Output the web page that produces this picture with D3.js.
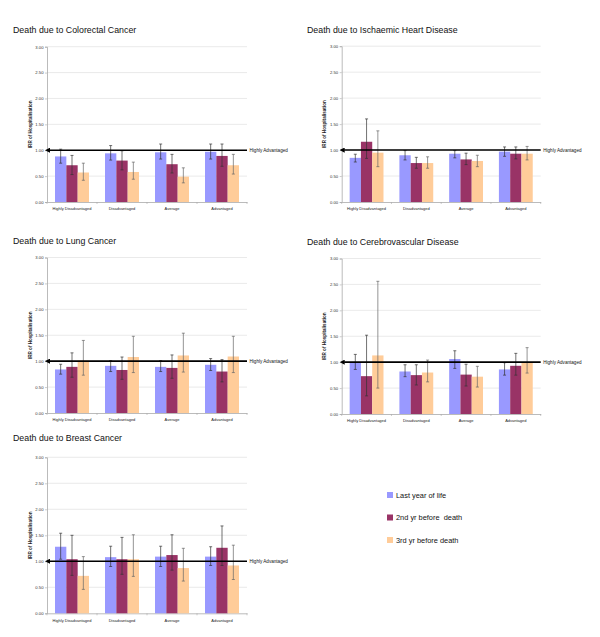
<!DOCTYPE html>
<html><head><meta charset="utf-8">
<script src="https://cdn.jsdelivr.net/npm/d3@7"></script>
<style>body{margin:0;background:#fff}svg{display:block;font-family:"Liberation Sans",Arial,sans-serif}text{white-space:pre}</style>
</head><body><svg id="c" width="600" height="637"></svg>
<script>
const categories = ["Highly Disadvantaged","Disadvantaged","Average","Advantaged"];
const seriesNames = ["Last year of life","2nd yr before  death","3rd yr before death"];
const yTicks = [0,0.5,1,1.5,2,2.5,3];
const yTickLabels = ["0.00","0.50","1.00","1.50","2.00","2.50","3.00"];
const refLabel = "Highly Advantaged";
const yTitle = "IRR of Hospitalisation";
const titles = ["Death due to Colorectal Cancer","Death due to Ischaemic Heart Disease","Death due to Lung Cancer","Death due to Cerebrovascular Disease","Death due to Breast Cancer"];

// values[series][category], lower, upper
const colorectalVal = [[0.88,0.94,0.96,0.97],[0.71,0.80,0.73,0.89],[0.57,0.58,0.49,0.71]];
const colorectalLo  = [[0.75,0.81,0.83,0.83],[0.53,0.62,0.56,0.69],[0.42,0.44,0.37,0.54]];
const colorectalHi  = [[1.02,1.09,1.12,1.12],[0.90,0.99,0.92,1.12],[0.75,0.77,0.66,0.92]];

const ischaemicVal = [[0.85,0.90,0.93,0.97],[1.16,0.75,0.82,0.93],[0.95,0.75,0.79,0.93]];
const ischaemicLo  = [[0.77,0.81,0.85,0.88],[0.84,0.65,0.72,0.83],[0.68,0.65,0.68,0.81]];
const ischaemicHi  = [[0.92,0.99,0.99,1.06],[1.60,0.86,0.94,1.06],[1.37,0.87,0.90,1.07]];

const lungVal = [[0.84,0.91,0.89,0.93],[0.89,0.83,0.87,0.80],[1.01,1.08,1.11,1.09]];
const lungLo  = [[0.75,0.80,0.80,0.82],[0.69,0.65,0.67,0.60],[0.73,0.78,0.79,0.78]];
const lungHi  = [[0.94,1.01,1.01,1.05],[1.16,1.08,1.12,1.03],[1.40,1.48,1.54,1.48]];

const cerebroVal = [[1.00,0.82,1.06,0.86],[0.73,0.75,0.76,0.93],[1.13,0.80,0.72,1.00]];
const cerebroLo  = [[0.86,0.72,0.88,0.75],[0.35,0.56,0.54,0.75],[0.50,0.62,0.52,0.79]];
const cerebroHi  = [[1.15,0.95,1.22,0.99],[1.52,0.95,0.96,1.17],[2.56,1.04,0.92,1.28]];

const breastVal = [[1.28,1.08,1.09,1.09],[1.04,1.04,1.12,1.26],[0.72,1.04,0.87,0.92]];
const breastLo  = [[1.04,0.90,0.90,0.92],[0.73,0.75,0.83,0.92],[0.46,0.71,0.62,0.65]];
const breastHi  = [[1.54,1.29,1.29,1.28],[1.50,1.46,1.51,1.68],[1.09,1.51,1.25,1.31]];

const colors = ["#9999ff","#993366","#ffcc99"];
const errColors = ["#333","#333","#666"];

const panels = [
  {title:titles[0], v:colorectalVal, lo:colorectalLo, hi:colorectalHi, x0:47, x1:247, y0:46.7, y1:202, tx:13, ty:33},
  {title:titles[1], v:ischaemicVal, lo:ischaemicLo, hi:ischaemicHi, x0:341.7, x1:540.7, y0:46.2, y1:202, tx:307, ty:33},
  {title:titles[2], v:lungVal, lo:lungLo, hi:lungHi, x0:47, x1:247, y0:257.5, y1:413, tx:13, ty:244},
  {title:titles[3], v:cerebroVal, lo:cerebroLo, hi:cerebroHi, x0:341.7, x1:540.7, y0:258.5, y1:414, tx:307, ty:245},
  {title:titles[4], v:breastVal, lo:breastLo, hi:breastHi, x0:47, x1:247, y0:457.3, y1:613.3, tx:13, ty:441}
];

const svg = d3.select("#c");
svg.append("defs").append("marker").attr("id","arr").attr("viewBox","0 0 10 10")
  .attr("refX",1).attr("refY",5).attr("markerWidth",3.2).attr("markerHeight",3.2).attr("orient","auto-start-reverse")
  .append("path").attr("d","M0,0L10,5L0,10z").attr("fill","#000");

panels.forEach(p => {
  const g = svg.append("g");
  g.append("text").attr("x",p.tx).attr("y",p.ty).attr("font-size",8.8).attr("fill","#111").text(p.title);
  const y = d3.scaleLinear().domain([0,3]).range([p.y1,p.y0]);
  const x = d3.scaleBand().domain(categories).range([p.x0,p.x1]).paddingInner(0).paddingOuter(0);
  const xs = d3.scaleBand().domain(d3.range(3)).range([x.bandwidth()*0.16, x.bandwidth()*0.84]).padding(0);

  // grid
  g.append("g").selectAll("line").data(yTicks.slice(1)).join("line")
    .attr("x1",p.x0).attr("x2",p.x1).attr("y1",d=>y(d)).attr("y2",d=>y(d))
    .attr("stroke","#e4e4e4").attr("stroke-width",0.8);

  // y axis
  const ya = d3.axisLeft(y).tickValues(yTicks).tickFormat((d,i)=>yTickLabels[i]).tickSize(2).tickPadding(1.5);
  const yg = g.append("g").attr("transform",`translate(${p.x0},0)`).call(ya);
  yg.select(".domain").attr("stroke","#aaa").attr("stroke-width",0.8);
  yg.selectAll(".tick line").attr("stroke","#aaa").attr("stroke-width",0.6);
  yg.selectAll("text").attr("font-size",4.2).attr("fill","#333").attr("font-family","Liberation Sans, Arial");

  // x axis
  const xa = d3.axisBottom(x).tickSize(0).tickPadding(5.5);
  const xg = g.append("g").attr("transform",`translate(0,${p.y1})`).call(xa);
  xg.select(".domain").attr("stroke","#aaa").attr("stroke-width",0.8);
  xg.selectAll("text").attr("font-size",4).attr("fill","#222").attr("font-family","Liberation Sans, Arial");
  xg.selectAll(".bnd").data(d3.range(categories.length+1)).join("line").attr("class","bnd")
    .attr("x1",i=>p.x0+i*x.bandwidth()).attr("x2",i=>p.x0+i*x.bandwidth()).attr("y1",0).attr("y2",2)
    .attr("stroke","#aaa").attr("stroke-width",0.6);

  // y title
  g.append("text").attr("transform",`translate(${p.x0-15.5},${(p.y0+p.y1)/2}) rotate(-90)`)
    .attr("text-anchor","middle").attr("font-size",4.6).attr("font-weight","bold").attr("fill","#222").text(yTitle);

  // bars
  p.v.forEach((vals,s) => {
    g.append("g").selectAll("rect").data(vals).join("rect")
      .attr("x",(d,i)=>x(categories[i])+xs(s)).attr("width",xs.bandwidth())
      .attr("y",d=>y(d)).attr("height",d=>y(0)-y(d)).attr("fill",colors[s]);
  });
  // error bars
  p.v.forEach((vals,s) => {
    const eg = g.append("g").attr("stroke",errColors[s]).attr("stroke-width",0.7);
    vals.forEach((d,i) => {
      const cx = x(categories[i])+xs(s)+xs.bandwidth()/2;
      const lo = p.lo[s][i], hi = p.hi[s][i];
      eg.append("line").attr("x1",cx).attr("x2",cx).attr("y1",y(lo)).attr("y2",y(hi));
      eg.append("line").attr("x1",cx-1.5).attr("x2",cx+1.5).attr("y1",y(lo)).attr("y2",y(lo));
      eg.append("line").attr("x1",cx-1.5).attr("x2",cx+1.5).attr("y1",y(hi)).attr("y2",y(hi));
    });
  });
  // reference line
  g.append("line").attr("x1",p.x1).attr("x2",p.x0+2.5).attr("y1",y(1)).attr("y2",y(1))
    .attr("stroke","#000").attr("stroke-width",1.6).attr("marker-end","url(#arr)");
  g.append("text").attr("x",p.x1+2.5).attr("y",y(1)+1.5).attr("font-size",4.6).attr("fill","#111").text(refLabel);
});

// legend
const lg = svg.append("g");
seriesNames.forEach((n,i) => {
  const yy = 495 + i*22.5;
  lg.append("rect").attr("x",387).attr("y",yy-3).attr("width",6).attr("height",6).attr("fill",colors[i]);
  lg.append("text").attr("x",396).attr("y",yy+2.6).attr("font-size",7.4).attr("fill","#111").attr("xml:space","preserve").text(n);
});
</script></body></html>
